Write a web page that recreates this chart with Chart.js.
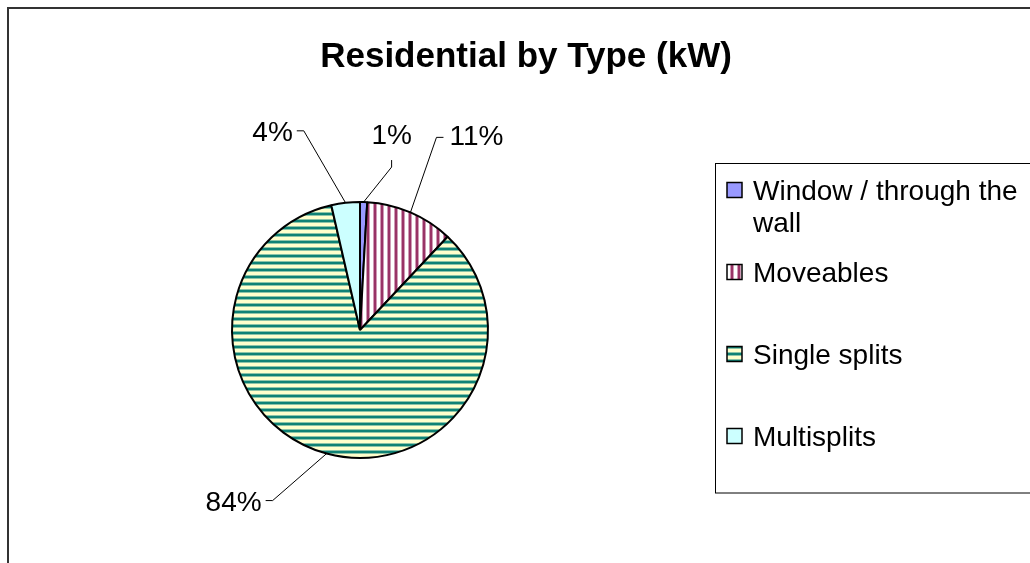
<!DOCTYPE html>
<html><head><meta charset="utf-8">
<script src="https://cdn.jsdelivr.net/npm/chart.js@4.4.1/dist/chart.umd.min.js"></script>
<style>html,body{margin:0;padding:0;background:#fff;overflow:hidden}canvas{display:block}</style>
</head><body>
<canvas id="c" width="1030" height="563"></canvas>
<script>
// ---- data ----
const chartTitle = 'Residential by Type (kW)';
const categories = ['Window / through the wall', 'Moveables', 'Single splits', 'Multisplits'];
const shares = [0.9, 11.1, 84.4, 3.6];

// ---- styling / layout (not data) ----
const FONT = '"Liberation Sans", Arial, sans-serif';
const labelFontPx = 28;
const legendFontPx = 28;
// label centre offset from the leader anchor on the slice edge, and tick side
const labelLayout = [
  {dx: 28, dy: -68, tick: 'down'},
  {dx: 66, dy: -77, tick: 'left'},
  {dx: -93, dy: 47, tick: 'right'},
  {dx: -73, dy: -72, tick: 'right'}
];
const legendLayout = {left: 716, top: 164, bottom: 493.5, swatchX: 727, swatch: 15, textX: 753, firstY: 190, step: 82, lineH: 32};

function stripePattern(w, h, bg, rows) {
  const c = document.createElement('canvas');
  c.width = w; c.height = h;
  const x = c.getContext('2d');
  x.fillStyle = bg; x.fillRect(0, 0, w, h);
  rows.forEach(r => { x.fillStyle = r.c; x.fillRect(r.x, r.y, r.w, r.h); });
  return x.createPattern(c, 'repeat');
}
const ctx0 = document.getElementById('c').getContext('2d');
const movPattern = stripePattern(7, 1, '#ffffff', [
  {x: 2, y: 0, w: 1, h: 1, c: '#cf9ab5'}, {x: 3, y: 0, w: 2, h: 1, c: '#993366'}, {x: 5, y: 0, w: 1, h: 1, c: '#cf9ab5'}]);
const singlePattern = stripePattern(1, 7, '#ffffcc', [
  {x: 0, y: 2, w: 1, h: 1, c: '#8cc4a8'}, {x: 0, y: 3, w: 1, h: 2, c: '#0f8275'}, {x: 0, y: 5, w: 1, h: 1, c: '#8cc4a8'}]);
const fills = ['#9999ff', movPattern, singlePattern, '#ccffff'];

const overlay = {
  id: 'overlay',
  beforeDraw(chart) {
    const c = chart.ctx;
    c.save(); c.fillStyle = '#fff'; c.fillRect(0, 0, chart.width, chart.height); c.restore();
  },
  afterDraw(chart) {
    const c = chart.ctx;
    c.save();
    // outer frame
    c.strokeStyle = '#333'; c.lineWidth = 2;
    c.strokeRect(8, 8, chart.width + 20, chart.height + 20);
    // title
    c.fillStyle = '#000';
    c.font = 'bold 35px ' + FONT;
    c.textAlign = 'center'; c.textBaseline = 'middle';
    c.fillText(chartTitle, 526, 57);

    // data labels with leader lines
    const meta = chart.getDatasetMeta(0);
    const total = shares.reduce((a, b) => a + b, 0);
    c.font = labelFontPx + 'px ' + FONT;
    meta.data.forEach((arc, i) => {
      const p = arc.getProps(['x', 'y', 'startAngle', 'endAngle', 'outerRadius'], true);
      const mid = (p.startAngle + p.endAngle) / 2;
      const ax = p.x + Math.cos(mid) * p.outerRadius;
      const ay = p.y + Math.sin(mid) * p.outerRadius;
      const L = labelLayout[i];
      const lx = ax + L.dx, ly = ay + L.dy;
      const txt = Math.round(shares[i] / total * 100) + '%';
      const tw = c.measureText(txt).width;
      let t1, t2;
      if (L.tick === 'down') { t1 = [lx, ly + 26]; t2 = [lx, ly + 33]; }
      else if (L.tick === 'left') { t1 = [lx - tw / 2 - 6, ly + 2]; t2 = [t1[0] - 7, ly + 2]; }
      else { t1 = [lx + tw / 2 + 4, ly]; t2 = [t1[0] + 7, ly]; }
      c.strokeStyle = '#000'; c.lineWidth = 1;
      c.beginPath(); c.moveTo(t1[0], t1[1]); c.lineTo(t2[0], t2[1]); c.lineTo(ax, ay); c.stroke();
      c.fillStyle = '#000'; c.textAlign = 'center'; c.textBaseline = 'alphabetic';
      c.fillText(txt, lx, ly + 10);
    });

    // legend
    const G = legendLayout;
    c.strokeStyle = '#000'; c.lineWidth = 1;
    c.strokeRect(G.left - 0.5, G.top - 0.5, chart.width, G.bottom - G.top);
    c.font = legendFontPx + 'px ' + FONT;
    c.textAlign = 'left'; c.textBaseline = 'alphabetic';
    let y = G.firstY;
    const maxW = chart.width - G.textX;
    categories.forEach((name, i) => {
      c.fillStyle = fills[i];
      c.fillRect(G.swatchX, y - G.swatch / 2, G.swatch, G.swatch);
      c.strokeStyle = '#000'; c.lineWidth = 1.5;
      c.strokeRect(G.swatchX, y - G.swatch / 2, G.swatch, G.swatch);
      // wrap
      const words = name.split(' ');
      const lines = []; let cur = '';
      words.forEach(w => {
        const t = cur ? cur + ' ' + w : w;
        if (c.measureText(t).width > maxW && cur) { lines.push(cur); cur = w; } else cur = t;
      });
      lines.push(cur);
      c.fillStyle = '#000';
      lines.forEach((ln, k) => c.fillText(ln, G.textX, y + 10 + k * G.lineH));
      y += G.step;
    });
    c.restore();
  }
};

new Chart(ctx0, {
  type: 'pie',
  data: {
    labels: categories,
    datasets: [{
      data: shares,
      backgroundColor: fills,
      borderColor: '#000',
      borderWidth: 2,
      radius: 128
    }]
  },
  options: {
    responsive: false,
    animation: false,
    events: [],
    devicePixelRatio: 1,
    layout: {padding: {left: 232, right: 542, top: 202, bottom: 105}},
    plugins: {legend: {display: false}, title: {display: false}, tooltip: {enabled: false}}
  },
  plugins: [overlay]
});
</script>
</body></html>
